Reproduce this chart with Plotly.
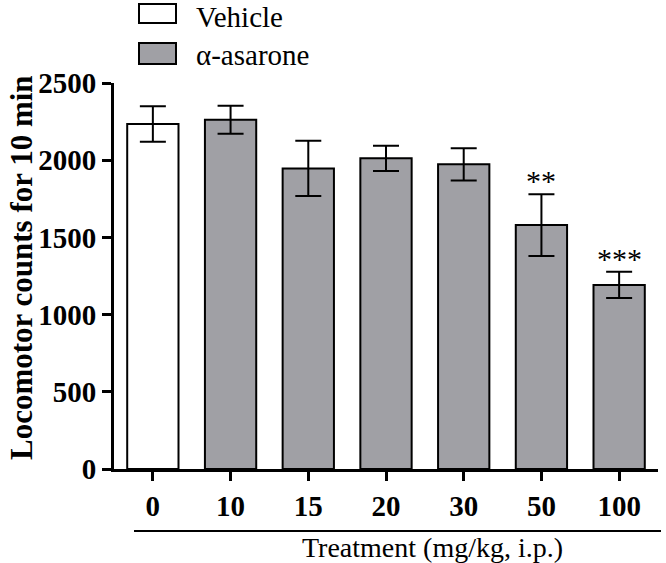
import plotly.graph_objects as go

# ---- data ----
doses = ["0", "10", "15", "20", "30", "50", "100"]
means = [2235, 2262, 1947, 2012, 1973, 1580, 1192]
sems = [115, 90, 179, 82, 105, 200, 85]
groups = ["Vehicle", "α-asarone", "α-asarone", "α-asarone", "α-asarone", "α-asarone", "α-asarone"]
sig = ["", "", "", "", "", "**", "***"]
y_ticks = [0, 500, 1000, 1500, 2000, 2500]
legend_labels = ["Vehicle", "α-asarone"]

# ---- style ----
W, H = 666, 563
# plot area in page pixels: x 114..658, y 83..469
L, R, T, B = 114, 8, 83, H - 469
FONT = "Liberation Serif, Times New Roman, serif"
group_colors = {"Vehicle": "#ffffff", "α-asarone": "#a0a0a5"}

pw = W - L - R
ph = H - T - B

def px_x(px):
    return (px - L) / pw

def px_y(py):
    return (H - B - py) / ph

fig = go.Figure()
fig.add_trace(go.Bar(
    x=doses, y=means,
    width=0.66,
    marker=dict(color=[group_colors[g] for g in groups],
                line=dict(color="black", width=2)),
    error_y=dict(type="data", array=sems, visible=True,
                 color="black", thickness=2, width=13),
    showlegend=False,
))

# significance marks
for i, (m, s, t) in enumerate(zip(means, sems, sig)):
    if t:
        fig.add_annotation(x=i, y=m + s, text=t, showarrow=False,
                           yanchor="bottom", yshift=-5,
                           font=dict(family=FONT, size=30, color="black"))

# manual legend
leg_rows = [(4, 23), (43, 64)]
text_rows = [0, 38]  # top of text boxes (page px)
for (y0, y1), ty, lab in zip(leg_rows, text_rows, legend_labels):
    fig.add_shape(type="rect", xref="paper", yref="paper",
                  x0=px_x(139), x1=px_x(176), y0=px_y(y1), y1=px_y(y0),
                  line=dict(color="black", width=2),
                  fillcolor=group_colors[lab])
    fig.add_annotation(xref="paper", yref="paper", x=px_x(195),
                       y=px_y(ty), text=lab, showarrow=False,
                       xanchor="left", yanchor="top", borderpad=0,
                       font=dict(family=FONT, size=29, color="black"))

# y-axis title
fig.add_annotation(xref="paper", yref="paper", x=px_x(21), y=px_y(268),
                   text="<b>Locomotor counts for 10 min</b>", textangle=-90,
                   showarrow=False, xanchor="center", yanchor="middle",
                   font=dict(family=FONT, size=31, color="black"))

# x-axis group line and title
fig.add_shape(type="line", xref="paper", yref="paper",
              x0=px_x(134), x1=px_x(661), y0=px_y(531), y1=px_y(531),
              line=dict(color="black", width=2))
fig.add_annotation(xref="paper", yref="paper", x=px_x(432), y=px_y(547),
                   text="Treatment (mg/kg, i.p.)", showarrow=False,
                   xanchor="center", yanchor="middle",
                   font=dict(family=FONT, size=28, color="black"))

fig.update_layout(
    width=W, height=H,
    margin=dict(l=L, r=R, t=T, b=B, pad=0),
    paper_bgcolor="white", plot_bgcolor="white",
    bargap=0.34,
    font=dict(family=FONT, color="black"),
)
fig.update_xaxes(
    type="category", range=[-0.5, 6.5],
    showline=True, linecolor="black", linewidth=3,
    ticks="outside", ticklen=9, tickwidth=3, tickcolor="black",
    tickfont=dict(family=FONT, size=29, weight="bold", color="black"),
    showgrid=False, zeroline=False,
)
fig.update_yaxes(
    range=[0, 2500], tickvals=y_ticks,
    showline=True, linecolor="black", linewidth=3,
    ticks="outside", ticklen=9, tickwidth=3, tickcolor="black",
    tickfont=dict(family=FONT, size=29, weight="bold", color="black"),
    showgrid=False, zeroline=False,
)

fig.write_html("out.html",
               config={"displayModeBar": False},
               post_script="document.body.style.margin='0';document.body.style.overflow='hidden';")
